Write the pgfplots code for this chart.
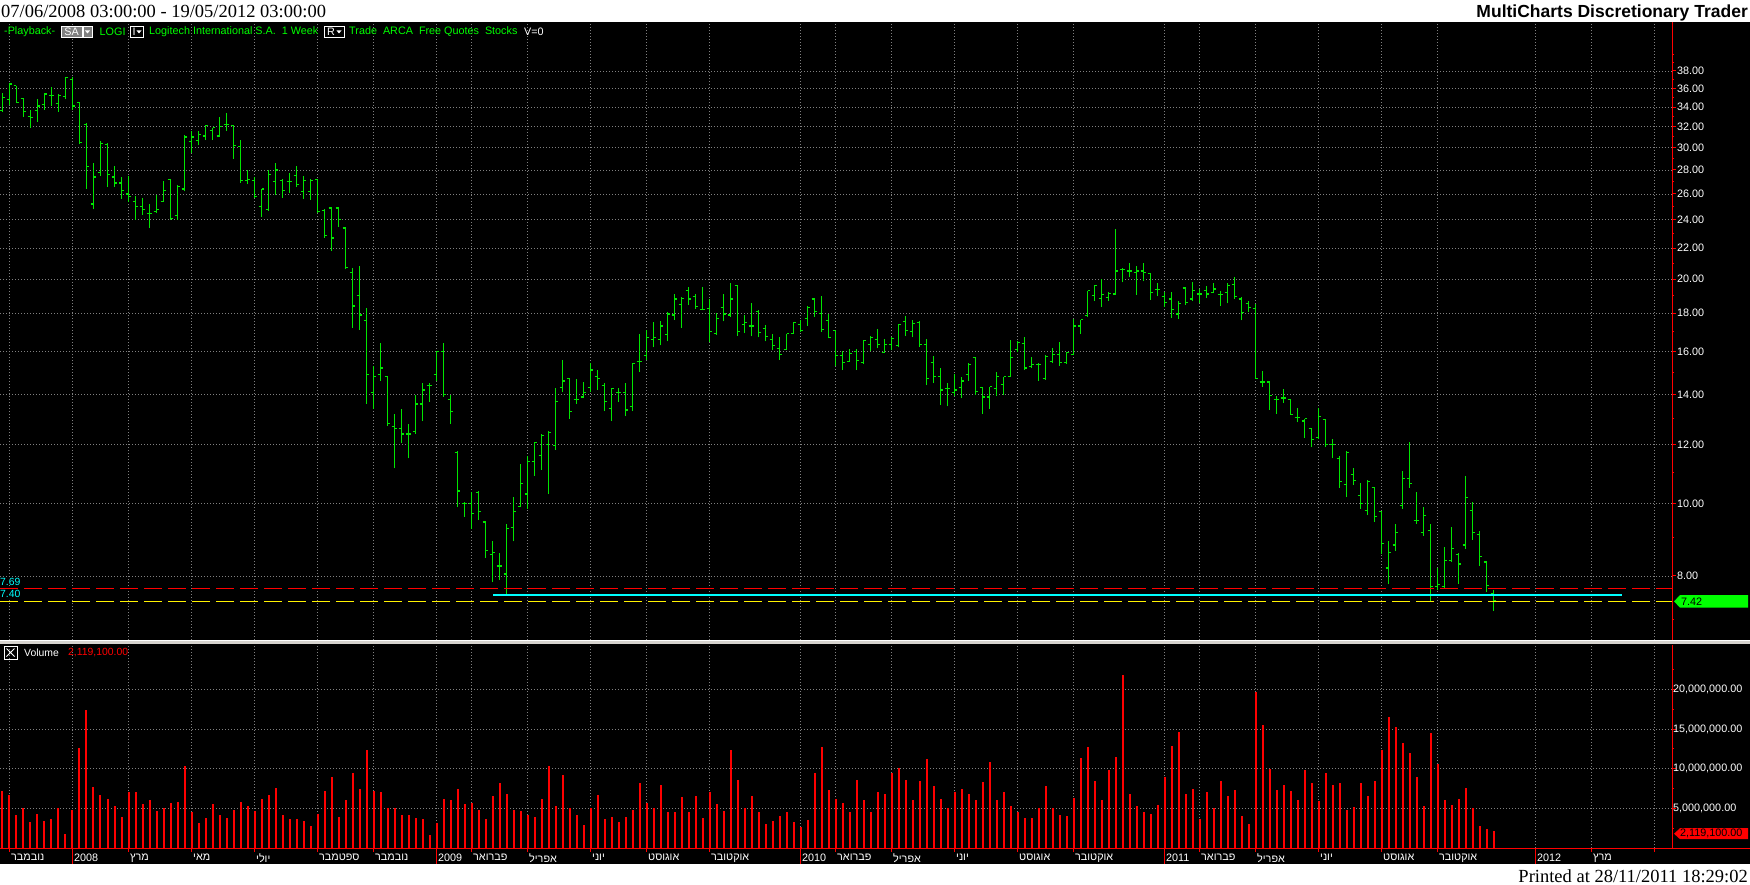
\documentclass[border=0pt]{standalone}
\usepackage{pgfplots}
\pgfplotsset{compat=1.18}
\usepackage{pgfplotstable}
\usepackage{fontspec}
\setmainfont{Liberation Sans}
\newfontfamily\titlefont{Liberation Serif}
\newfontfamily\heb[Script=Hebrew]{Liberation Sans}
\TeXXeTstate=1
\newcommand\ui{\fontsize{10.8}{12}\selectfont}
\newcommand\hm[1]{{\heb\beginR #1\endR}}

\definecolor{bargreen}{RGB}{0,230,0}
\definecolor{uigreen}{RGB}{0,255,0}
\definecolor{gridgray}{RGB}{128,128,128}
\definecolor{cyanline}{RGB}{0,255,255}
\definecolor{sepgray}{RGB}{214,211,206}

\pgfdeclareplotmark{otick}{\pgfpathmoveto{\pgfqpoint{-2.8pt}{0pt}}\pgfpathlineto{\pgfqpoint{0pt}{0pt}}\pgfusepathqstroke}
\pgfdeclareplotmark{ctick}{\pgfpathmoveto{\pgfqpoint{0pt}{0pt}}\pgfpathlineto{\pgfqpoint{2.8pt}{0pt}}\pgfusepathqstroke}

% weekly bars, LOGI, bar index 0 = week of 26/10/2007
\pgfplotstableread{
i o h l c
0 33.6 35.5 33.5 35.0
1 34.8 36.5 34.2 36.5
2 36.3 36.3 34.4 34.5
3 34.9 35.0 33.0 33.5
4 33.0 33.7 31.9 32.9
5 33.6 34.8 32.5 34.1
6 34.3 35.4 33.7 35.4
7 35.2 36.2 34.1 35.2
8 34.4 35.4 33.5 35.2
9 35.1 37.2 34.8 37.2
10 37.0 37.3 33.7 34.1
11 34.5 34.5 30.3 30.5
12 32.2 32.4 26.4 28.3
13 25.2 28.6 24.8 27.4
14 27.8 30.6 27.5 30.4
15 30.3 30.4 26.6 27.6
16 27.4 28.3 26.6 26.9
17 26.9 27.4 25.6 26.3
18 26.0 27.5 25.4 25.8
19 25.4 25.8 24.0 25.0
20 25.0 25.7 24.4 24.8
21 24.5 25.2 23.4 24.5
22 24.6 25.9 24.5 24.8
23 25.4 27.1 25.4 26.3
24 27.2 27.2 24.0 24.1
25 24.3 26.7 24.0 26.6
26 26.4 31.2 26.2 31.0
27 30.6 31.6 29.5 31.0
28 30.7 31.6 30.2 31.2
29 31.1 32.2 30.7 32.1
30 31.6 31.9 30.7 31.9
31 31.1 33.0 31.1 32.0
32 32.2 33.4 31.6 32.2
33 32.1 32.2 29.0 30.2
34 30.1 30.7 26.9 27.1
35 27.1 28.0 26.8 27.2
36 27.1 27.4 25.7 25.8
37 25.0 26.4 24.2 26.4
38 24.8 28.0 24.7 27.6
39 27.0 28.6 25.9 28.0
40 27.1 27.2 25.7 26.3
41 27.0 27.7 26.1 27.0
42 27.5 28.3 26.6 26.8
43 26.2 27.5 25.6 27.1
44 26.2 27.2 25.5 27.1
45 27.2 27.2 24.5 24.6
46 24.7 24.8 22.7 22.9
47 24.9 24.9 21.8 22.7
48 24.9 24.9 23.5 24.0
49 23.4 23.5 20.6 20.7
50 20.4 20.7 17.2 18.4
51 19.0 20.8 17.1 17.9
52 17.6 18.3 13.6 14.9
53 14.1 15.3 13.4 14.8
54 14.9 16.4 14.6 15.2
55 14.8 14.8 12.7 12.8
56 12.7 13.2 11.15 12.6
57 12.6 13.4 12.05 12.4
58 12.4 12.8 11.5 12.4
59 12.5 14.0 12.4 13.6
60 13.6 14.5 12.9 14.2
61 14.4 14.5 13.7 14.4
62 14.9 16.0 14.6 16.0
63 16.0 16.4 13.9 14.0
64 13.8 14.0 12.8 13.3
65 11.7 11.75 9.9 10.4
66 10.0 10.05 9.6 10.0
67 10.0 10.35 9.25 9.7
68 10.35 10.4 9.5 9.75
69 9.45 9.45 8.45 8.65
70 8.55 8.9 7.85 8.6
71 8.25 8.6 7.9 8.25
72 8.05 9.4 7.55 9.25
73 9.3 10.2 8.9 9.75
74 9.9 11.3 9.9 10.65
75 10.3 11.6 9.83 11.4
76 11.4 12.1 10.9 12.07
77 11.6 12.4 11.1 12.35
78 12.0 12.5 10.3 12.45
79 11.95 14.3 11.8 13.7
80 14.3 15.6 14.1 14.6
81 14.7 14.7 13.0 13.3
82 13.8 14.7 13.6 13.8
83 13.9 14.55 13.85 14.1
84 14.3 15.45 14.1 15.1
85 14.8 15.1 14.2 14.7
86 14.4 14.5 13.3 13.7
87 13.4 14.3 12.9 14.25
88 14.1 14.3 13.7 14.1
89 14.1 14.5 13.1 13.35
90 13.5 15.45 13.3 15.4
91 15.5 16.9 15.0 15.5
92 15.8 17.1 15.6 16.7
93 16.6 17.5 16.2 16.7
94 16.6 17.55 16.3 17.3
95 16.85 18.05 16.5 17.95
96 17.9 19.1 17.65 18.8
97 18.5 18.9 17.2 18.85
98 19.3 19.5 18.45 18.8
99 18.95 19.1 18.25 18.35
100 18.2 19.5 18.15 18.2
101 18.25 18.8 16.45 17.0
102 16.9 18.0 16.85 17.7
103 18.3 19.1 17.55 17.95
104 17.9 19.75 17.8 18.8
105 19.6 19.6 16.8 17.0
106 17.4 17.9 16.95 17.5
107 17.3 18.6 16.75 17.3
108 18.1 18.15 16.7 16.95
109 17.15 17.35 16.5 16.75
110 16.6 16.9 16.05 16.3
111 16.15 16.7 15.6 15.85
112 16.1 16.9 16.1 16.9
113 16.9 17.5 16.9 17.5
114 17.4 17.65 17.0 17.05
115 17.7 18.4 17.3 18.3
116 18.8 18.85 17.8 18.1
117 18.0 18.95 17.0 17.1
118 17.6 17.95 16.65 16.7
119 17.05 17.1 15.3 15.8
120 15.8 16.0 15.1 15.45
121 15.5 16.1 15.5 15.9
122 16.0 16.1 15.1 15.55
123 15.45 16.55 15.4 16.55
124 16.35 16.75 16.0 16.7
125 16.6 17.15 16.15 16.35
126 15.95 16.6 15.95 16.35
127 16.35 16.7 16.05 16.65
128 16.3 17.4 16.2 17.4
129 17.55 17.85 16.8 17.05
130 17.0 17.65 16.7 17.45
131 17.5 17.55 16.2 16.35
132 16.35 16.6 14.4 14.7
133 15.45 15.75 14.5 14.8
134 14.8 15.2 13.55 14.2
135 14.25 14.5 13.5 14.25
136 14.1 14.9 13.95 14.2
137 14.3 14.8 13.85 14.6
138 14.9 15.45 14.6 15.35
139 15.7 15.7 14.0 14.15
140 14.3 14.3 13.2 13.9
141 13.9 14.35 13.4 14.35
142 14.25 15.0 13.95 14.8
143 14.45 14.8 14.0 14.8
144 14.8 16.55 14.8 15.7
145 16.1 16.5 15.95 16.45
146 16.4 16.7 15.1 15.2
147 15.25 15.7 15.2 15.35
148 15.35 15.45 14.6 15.35
149 14.7 15.8 14.65 15.75
150 15.5 16.15 15.45 15.85
151 15.85 16.45 15.3 15.45
152 15.45 15.95 15.4 15.95
153 15.85 17.7 15.8 17.3
154 17.3 17.65 16.9 17.65
155 17.85 19.3 17.8 19.3
156 19.0 19.65 18.7 19.6
157 18.85 20.0 18.35 19.05
158 18.9 19.2 18.7 19.15
159 19.1 23.3 19.1 20.5
160 20.6 20.7 19.8 20.6
161 20.5 21.0 20.1 20.5
162 20.4 20.8 19.05 20.5
163 20.5 21.0 19.85 20.4
164 20.35 20.4 18.75 19.2
165 19.35 19.75 18.95 19.35
166 18.95 19.2 18.35 18.6
167 18.8 19.2 17.75 18.2
168 17.95 18.7 17.7 18.55
169 19.45 19.5 18.45 18.6
170 18.8 19.8 18.7 19.3
171 19.1 19.4 18.6 19.1
172 19.3 19.6 18.85 19.1
173 19.2 19.75 19.15 19.4
174 19.05 19.25 18.4 19.05
175 19.2 19.75 18.55 19.6
176 19.65 20.1 18.8 18.95
177 18.8 18.9 17.6 18.05
178 18.55 18.7 18.05 18.3
179 18.25 18.5 14.7 14.7
180 14.55 15.05 14.35 14.55
181 14.55 14.55 13.35 13.95
182 13.8 13.95 13.2 13.8
183 13.85 14.25 13.65 13.85
184 13.8 13.8 13.15 13.15
185 13.05 13.45 12.85 13.05
186 12.9 13.0 12.25 13.0
187 12.6 12.6 11.9 12.2
188 12.25 13.45 12.2 13.1
189 12.95 13.0 11.9 12.0
190 12.0 12.2 11.5 12.0
191 11.5 11.6 10.5 10.7
192 10.6 11.75 10.2 11.7
193 10.95 11.15 10.6 10.75
194 10.25 10.65 9.85 10.0
195 9.8 10.75 9.65 10.7
196 10.5 10.5 9.45 9.6
197 9.75 9.75 8.55 8.85
198 8.2 8.9 7.8 8.6
199 8.8 9.4 8.65 9.15
200 9.95 11.05 9.85 10.8
201 10.8 12.1 10.5 10.65
202 9.5 10.35 9.4 9.5
203 9.15 9.9 9.05 9.65
204 9.2 9.4 7.4 7.75
205 7.75 8.2 7.65 7.8
206 7.75 8.75 7.7 8.4
207 8.4 9.3 8.35 8.7
208 8.55 8.6 7.8 8.3
209 8.8 10.9 8.7 10.2
210 9.8 10.05 8.95 9.15
211 9.1 9.2 8.25 8.5
212 8.35 8.35 7.62 7.77
213 7.58 7.66 7.19 7.42
}\ohlc

% weekly volume, millions of shares
\pgfplotstableread{
i v
0 7.2
1 6.7
2 4.2
3 5.0
4 3.3
5 4.3
6 3.4
7 3.6
8 5.0
9 1.8
10 4.8
11 12.6
12 17.4
13 7.7
14 6.7
15 6.2
16 5.3
17 3.9
18 7.1
19 7.0
20 5.5
21 6.0
22 4.7
23 5.0
24 5.7
25 5.8
26 10.4
27 4.6
28 3.2
29 3.8
30 5.5
31 4.2
32 3.8
33 4.8
34 5.8
35 5.3
36 4.7
37 6.2
38 6.7
39 7.6
40 4.1
41 3.7
42 3.6
43 3.4
44 2.8
45 4.3
46 7.2
47 9.0
48 3.9
49 6.1
50 9.5
51 7.5
52 12.3
53 7.2
54 7.0
55 5.0
56 5.0
57 4.1
58 4.1
59 3.8
60 3.7
61 1.6
62 3.1
63 6.2
64 6.0
65 7.4
66 5.5
67 5.7
68 4.8
69 3.6
70 6.6
71 8.2
72 6.8
73 4.8
74 4.7
75 4.1
76 3.9
77 6.2
78 10.3
79 5.3
80 9.2
81 5.0
82 4.2
83 2.9
84 5.0
85 6.7
86 3.6
87 3.9
88 3.3
89 3.9
90 4.8
91 8.2
92 5.7
93 5.0
94 7.9
95 4.6
96 4.6
97 6.4
98 4.6
99 6.6
100 3.8
101 7.1
102 5.5
103 4.7
104 12.4
105 8.6
106 5.0
107 6.6
108 4.6
109 3.0
110 3.4
111 4.0
112 4.5
113 3.3
114 2.7
115 3.5
116 9.4
117 12.8
118 7.3
119 6.2
120 5.7
121 4.6
122 8.6
123 6.0
124 4.5
125 7.0
126 6.8
127 9.4
128 10.1
129 8.6
130 6.0
131 8.4
132 11.2
133 7.8
134 6.2
135 5.0
136 7.0
137 7.4
138 6.8
139 6.0
140 8.3
141 10.8
142 6.0
143 7.0
144 5.3
145 4.6
146 3.8
147 3.8
148 5.0
149 7.8
150 5.0
151 4.2
152 4.0
153 6.3
154 11.3
155 12.7
156 8.4
157 6.0
158 9.8
159 11.5
160 21.8
161 6.8
162 5.3
163 4.5
164 4.3
165 5.4
166 9.0
167 12.9
168 14.6
169 6.8
170 7.5
171 3.6
172 7.0
173 5.0
174 8.4
175 6.6
176 7.3
177 4.0
178 3.0
179 19.7
180 15.5
181 10.0
182 7.3
183 8.0
184 7.2
185 6.0
186 9.8
187 8.2
188 5.9
189 9.5
190 8.0
191 8.2
192 4.8
193 5.2
194 8.2
195 6.6
196 8.4
197 12.4
198 16.5
199 15.2
200 13.3
201 12.0
202 9.0
203 5.3
204 14.5
205 10.6
206 6.0
207 5.4
208 6.2
209 7.6
210 5.0
211 2.8
212 2.4
213 2.1191
}\vol

\begin{document}
\begin{tikzpicture}[x=1pt,y=1pt]
\useasboundingbox (0,0) rectangle (1750,884);
\fill[white] (0,0) rectangle (1750,884);
\fill[black] (0,20) rectangle (1750,862);

% title bar and footer
\node[anchor=base west, inner sep=0pt, font=\titlefont\fontsize{18.5}{20}\selectfont] at (1,866) {07/06/2008 03:00:00 - 19/05/2012 03:00:00};
\node[anchor=base east, inner sep=0pt, font=\bfseries\fontsize{17.5}{19}\selectfont] at (1748,866) {MultiCharts Discretionary Trader};
\node[anchor=base east, inner sep=0pt, font=\titlefont\fontsize{18.5}{20}\selectfont] at (1748,2) {Printed at 28/11/2011 18:29:02};

% ---- price panel ----
\begin{axis}[
  at={(0pt,244pt)}, anchor=south west,
  scale only axis, width=1672pt, height=618pt,
  xmin=-0.357, xmax=238.5,
  ymode=log, ymin=6.566, ymax=44.2,
  axis x line*=bottom, axis y line*=right,
  x axis line style={draw=none},
  y axis line style={-, draw=red, line width=1pt},
  xtick={1,10,18,27,36,45,53,62,67,75,84,92,101,114,119,127,136,145,153,166,171,179,188,197,205,219,227,236},
  xticklabel={}, xtick style={draw=none},
  ytick={8,10,12,14,16,18,20,22,24,26,28,30,32,34,36,38},
  yticklabels={8.00,10.00,12.00,14.00,16.00,18.00,20.00,22.00,24.00,26.00,28.00,30.00,32.00,34.00,36.00,38.00},
  minor ytick={7,9,11,13,15,17,19,21,23,25,27,29,31,33,35,37,39,40},
  tick align=outside,
  ytick style={draw=red, line width=1pt},
  major tick length=4pt, minor tick length=2pt,
  yticklabel style={font=\ui, text=white, anchor=west, inner sep=0pt, xshift=1pt},
  xmajorgrids, ymajorgrids,
  major grid style={draw=gridgray, line width=0.8pt, dash pattern=on 1pt off 2pt},
  clip=false,
]
\addplot[draw=none, forget plot,
  error bars/.cd, y dir=plus, y explicit, error mark=none,
  error bar style={draw=bargreen, line width=1.3pt, solid}]
  table[x=i, y=l, y error expr=\thisrow{h}-\thisrow{l}] {\ohlc};
\addplot[only marks, mark=otick, mark options={draw=bargreen, line width=1.2pt}] table[x=i, y=o] {\ohlc};
\addplot[only marks, mark=ctick, mark options={draw=bargreen, line width=1.2pt}] table[x=i, y=c] {\ohlc};
% reference levels
\addplot[red, line width=1.2pt, dash pattern=on 17.5pt off 6.5pt] coordinates {(-0.357,7.69) (238.5,7.69)};
\addplot[yellow, line width=1.2pt, dash pattern=on 17.5pt off 6.5pt] coordinates {(-0.357,7.40) (238.5,7.40)};
\addplot[cyanline, line width=2.6pt] coordinates {(70.1,7.545) (231.4,7.545)};
% last price tag
\fill[uigreen] ([xshift=2pt,yshift=-1pt]axis cs:238.5,7.42) -- ++(6pt,6.3pt) -- ++(68pt,0pt) -- ++(0pt,-12.6pt) -- ++(-68pt,0pt) -- cycle;
\node[anchor=west, inner sep=0pt, font=\ui, text=black] at ([xshift=9pt,yshift=-1pt]axis cs:238.5,7.42) {7.42};
\end{axis}

% cyan level labels
\node[anchor=west, inner sep=0pt, fill=black, text=cyanline, font=\fontsize{10.4}{11}\selectfont] at (0,302.5) {7.69};
\node[anchor=west, inner sep=0pt, fill=black, text=cyanline, font=\fontsize{10.4}{11}\selectfont] at (0,290) {7.40};

% ---- volume panel ----
\begin{axis}[
  at={(0pt,36pt)}, anchor=south west,
  scale only axis, width=1672pt, height=203pt,
  xmin=-0.357, xmax=238.5, ymin=0, ymax=25.6,
  axis x line*=bottom, axis y line*=right,
  axis line style={-, draw=red, line width=1pt},
  xtick={1,18,27,36,45,53,67,75,84,92,101,119,127,136,145,153,171,179,188,197,205,227,236},
  xticklabels={\hm{נובמבר},\hm{מרץ},\hm{מאי},\hm{יולי},\hm{ספטמבר},\hm{נובמבר},\hm{פברואר},\hm{אפריל},\hm{יוני},\hm{אוגוסט},\hm{אוקטובר},\hm{פברואר},\hm{אפריל},\hm{יוני},\hm{אוגוסט},\hm{אוקטובר},\hm{פברואר},\hm{אפריל},\hm{יוני},\hm{אוגוסט},\hm{אוקטובר},\hm{מרץ},{}},
  extra x ticks={10,62,114,166,219},
  extra x tick labels={2008,2009,2010,2011,2012},
  extra x tick style={major tick length=-16pt, grid=major},
  minor xtick={0,1,...,213},
  ytick={5,10,15,20},
  yticklabels={{5,000,000.00},{10,000,000.00},{15,000,000.00},{20,000,000.00}},
  extra y ticks={2.5,7.5,12.5,17.5,22.5},
  extra y tick labels={},
  extra y tick style={major tick length=-2pt, grid=none},
  tick align=inside,
  major tick length=-4pt, minor tick length=7pt,
  xtick style={draw=red, line width=1pt},
  ytick style={draw=red, line width=1pt},
  xticklabel style={font=\ui, text=white, anchor=north west, inner sep=0pt, xshift=1.5pt, yshift=-6pt},
  yticklabel style={font=\ui, text=white, anchor=west, inner sep=0pt, xshift=1pt},
  xmajorgrids, ymajorgrids,
  major grid style={draw=gridgray, line width=0.8pt, dash pattern=on 1pt off 2pt},
  clip=false,
]
\addplot[ycomb, draw=red, line width=2pt] table[x=i, y=v] {\vol};
\fill[red] ([xshift=2pt,yshift=-2.5pt]axis cs:238.5,2.1191) -- ++(6pt,5.5pt) -- ++(68pt,0pt) -- ++(0pt,-11pt) -- ++(-68pt,0pt) -- cycle;
\node[anchor=west, inner sep=0pt, font=\ui, text=black] at ([xshift=8pt,yshift=-2.5pt]axis cs:238.5,2.1191) {2,119,100.00};
\end{axis}
\draw[red, line width=1pt] (1672,36) -- (1750,36);

% separator between panels
\fill[sepgray] (0,240.3) rectangle (1750,243.8);
\draw[white, line width=0.8pt] (0,243.6) -- (1750,243.6);

% info line
\begin{scope}[font=\ui]
\node[anchor=west, inner sep=0pt, text=uigreen] at (4,852) {-Playback-};
\draw[white, fill=gray] (61,846.5) rectangle (82,857.5);
\node[text=white, inner sep=0pt] at (71.5,852) {SA};
\draw[white, fill=gray] (83,846.5) rectangle (92,857.5);
\fill[white] (85,853.5) -- (90,853.5) -- (87.5,850.5) -- cycle;
\node[anchor=west, inner sep=0pt, text=uigreen] at (99.5,852) {LOGI};
\draw[white] (130,846.5) rectangle (143.5,857.5);
\node[text=white, inner sep=0pt] at (134,852) {I};
\fill[white] (136.5,853.5) -- (141.5,853.5) -- (139,850.5) -- cycle;
\node[anchor=west, inner sep=0pt, text=uigreen] at (149,852) {Logitech International S.A.\ \ 1 Week};
\draw[white] (324.5,846.5) rectangle (344.5,857.5);
\node[text=white, inner sep=0pt] at (331,852) {R};
\fill[white] (336.5,853.5) -- (341.5,853.5) -- (339,850.5) -- cycle;
\node[anchor=west, inner sep=0pt, text=uigreen] at (349,852) {Trade\ \ ARCA\ \ Free Quotes\ \ Stocks};
\node[anchor=west, inner sep=0pt, text=white] at (524,852) {V=0};
% volume pane caption
\draw[white, line width=0.8pt] (4,225) rectangle (17,238);
\draw[white, line width=1pt] (6.5,227.5) -- (14.5,235.5) (6.5,235.5) -- (14.5,227.5);
\node[anchor=west, inner sep=0pt, text=white, font=\fontsize{10.4}{11}\selectfont] at (24,231) {Volume};
\node[anchor=west, inner sep=0pt, text=red, font=\fontsize{10.4}{11}\selectfont] at (68,231) {2,119,100.00};
\end{scope}
\end{tikzpicture}
\end{document}
